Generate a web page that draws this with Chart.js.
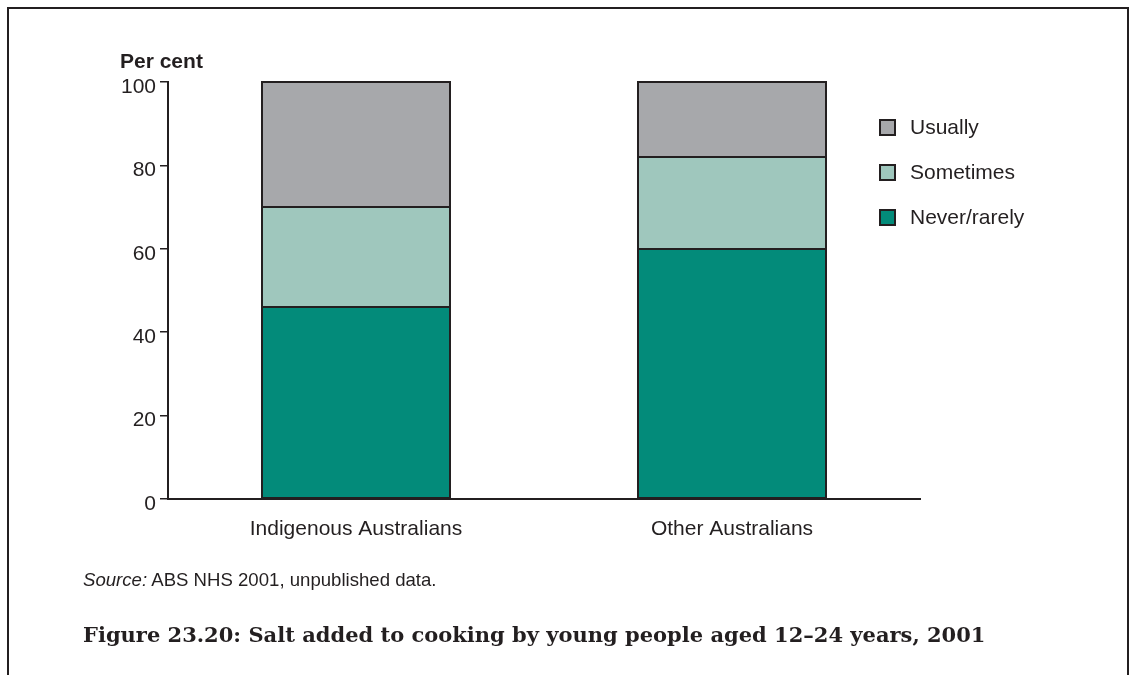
<html>
<head>
<script src="https://cdn.jsdelivr.net/npm/chart.js@4.4.0/dist/chart.umd.min.js"></script>
<style>
body { margin:0; background:#fff; font-family:"Liberation Sans", Arial, sans-serif; color:#231f20; }
#frame { position:absolute; left:7px; top:7px; width:1118px; height:700px; border:2px solid #231f20; border-bottom:none; }
#wrap { position:absolute; left:0; top:0; width:1135px; height:675px; }
#source { position:absolute; left:83px; top:569px; font-size:18.6px; }
#title { position:absolute; left:83px; top:622px; font-family:"DejaVu Serif", serif; font-weight:bold; font-size:21px; }
</style>
<script>

var categories = ["Indigenous Australians", "Other Australians"];
var neverRarely = [46, 60];
var sometimes   = [24, 22];
var usually     = [30, 18];
var yTicks      = [0, 20, 40, 60, 80, 100];

var ink = '#231f20';
var sans = '"Liberation Sans", Arial, sans-serif';

// outlines of the bar segments, taken from the bar elements themselves
var outlines = {
  id: 'outlines',
  afterDatasetsDraw(chart) {
    var ctx = chart.ctx;
    ctx.save();
    ctx.strokeStyle = ink;
    ctx.lineWidth = 2;
    chart.data.datasets.forEach((d, i) => {
      chart.getDatasetMeta(i).data.forEach(bar => {
        var left = Math.round(bar.x - bar.width / 2);
        var right = Math.round(bar.x + bar.width / 2);
        var top = Math.round(bar.y);
        var bottom = Math.round(bar.base);
        ctx.strokeRect(left, top, right - left, bottom - top);
      });
    });
    ctx.restore();
  }
};

// legend + "Per cent" label
var extras = {
  id: 'extras',
  afterDraw(chart) {
    var ctx = chart.ctx;
    ctx.save();
    ctx.fillStyle = ink;
    ctx.font = 'bold 21px ' + sans;
    ctx.textBaseline = 'middle';
    ctx.textAlign = 'left';
    ctx.fillText('Per cent', 120, 62);

    var ds = chart.data.datasets.slice().reverse();
    ctx.font = '21px ' + sans;
    ds.forEach((d, i) => {
      var y = 127 + i * 45;
      ctx.fillStyle = d.backgroundColor;
      ctx.fillRect(880, y - 7, 15, 15);
      ctx.strokeStyle = ink;
      ctx.lineWidth = 2;
      ctx.strokeRect(880, y - 7, 15, 15);
      ctx.fillStyle = ink;
      ctx.fillText(d.label, 910, y + 1);
    });
    ctx.restore();
  }
};

function draw() {
  var ctx = document.getElementById('myChart').getContext('2d');
  var common = {borderWidth:0, categoryPercentage:1, barPercentage:0.5};
  new Chart(ctx, {
    type: 'bar',
    data: {
      labels: categories,
      datasets: [
        {label:'Never/rarely', data:neverRarely, backgroundColor:'#038b7a'},
        {label:'Sometimes', data:sometimes, backgroundColor:'#9fc7bd'},
        {label:'Usually', data:usually, backgroundColor:'#a7a8ab'}
      ].map(d => Object.assign(d, common))
    },
    options: {
      responsive: false,
      animation: false,
      layout: { padding: { left:0, top:82, right:215, bottom:136 } },
      plugins: { legend:{display:false}, tooltip:{enabled:false} },
      scales: {
        x: {
          stacked: true,
          grid: { display:true, drawOnChartArea:false, drawTicks:false },
          border: { color:ink, width:2, z:1 },
          ticks: { color:ink, padding:18, font:{size:21, family:sans} },
          afterFit: s => { s.height = 40; }
        },
        y: {
          stacked: true,
          min: 0, max: 100,
          afterBuildTicks: s => { s.ticks = yTicks.map(v => ({value:v})); },
          grid: { drawOnChartArea:false, tickLength:8, color:ink, lineWidth:1.5 },
          border: { color:ink, width:2 },
          ticks: { color:ink, padding:4, labelOffset:5, font:{size:21, family:sans} },
          afterFit: s => { s.width = 168; }
        }
      }
    },
    plugins: [outlines, extras]
  });
}
</script>
</head>
<body onload="draw()">
<div id="wrap"><canvas id="myChart" width="1135" height="675"></canvas></div>
<div id="frame"></div>
<div id="source"><i>Source:</i> ABS NHS 2001, unpublished data.</div>
<div id="title">Figure 23.20: Salt added to cooking by young people aged 12–24 years, 2001</div>
</body>
</html>
